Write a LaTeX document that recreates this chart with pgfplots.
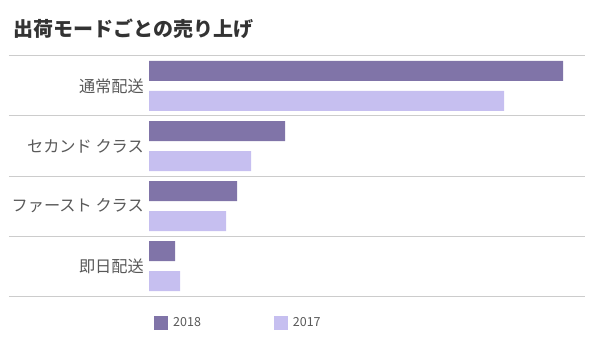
\documentclass[border=0pt]{standalone}
\usepackage{fontspec}
\setmainfont{Noto Sans CJK JP}
\usepackage{pgfplots}
\usepackage{pgfplotstable}
\pgfplotsset{compat=1.18}
\definecolor{c2018}{HTML}{8074A8}
\definecolor{c2017}{HTML}{C6BFF0}
\definecolor{labelgray}{HTML}{595959}
\definecolor{sepgray}{HTML}{CCCCCC}
\pgfplotstableread{
cat v2018 v2017
0 26 31
1 88 77
2 136 102
3 414 355
}\salesdata
\begin{document}
\begin{tikzpicture}[x=1bp,y=1bp]
\path (0,0) rectangle (590,352);
\node[anchor=west, inner sep=0pt, font=\fontsize{20bp}{24bp}\selectfont\bfseries, text=black!80] at (13,323) {出荷モードごとの売り上げ};
\begin{axis}[
  at={(149bp,56bp)}, anchor=south west,
  scale only axis, width=436bp, height=240bp,
  xbar, xmin=0, xmax=436, ymin=-0.5, ymax=3.5,
  bar width=20bp,
  axis line style={draw=none},
  xtick=\empty,
  ytick={0,1,2,3},
  yticklabels={即日配送,ファースト クラス,セカンド クラス,通常配送},
  major tick length=0pt,
  yticklabel style={font=\fontsize{16.2bp}{19bp}\selectfont, text=labelgray, inner sep=5bp},
  clip=false,
  legend image code/.code={\fill[#1] (0bp,-7bp) rectangle (14bp,7bp);},
  legend style={draw=none, fill=none, inner sep=0pt,
    at={(axis description cs:0,0)}, anchor=west, xshift=5bp, yshift=-27bp,
    font=\fontsize{12.5bp}{15bp}\selectfont, text=labelgray,
    /tikz/every odd column/.append style={column sep=3bp},
    /tikz/every even column/.append style={column sep=71bp}},
  legend columns=2,
]
\addplot[fill=c2018, draw=none, bar shift=15bp] table[x=v2018, y=cat] {\salesdata};
\addplot[fill=c2017, draw=none, bar shift=-15bp] table[x=v2017, y=cat] {\salesdata};
\legend{2018, 2017}
\pgfplotsinvokeforeach{-0.5,0.5,1.5,2.5,3.5}{
  \draw[sepgray, line width=1bp] (axis cs:-140,#1) -- (axis cs:436,#1);
}
\end{axis}
\end{tikzpicture}
\end{document}
